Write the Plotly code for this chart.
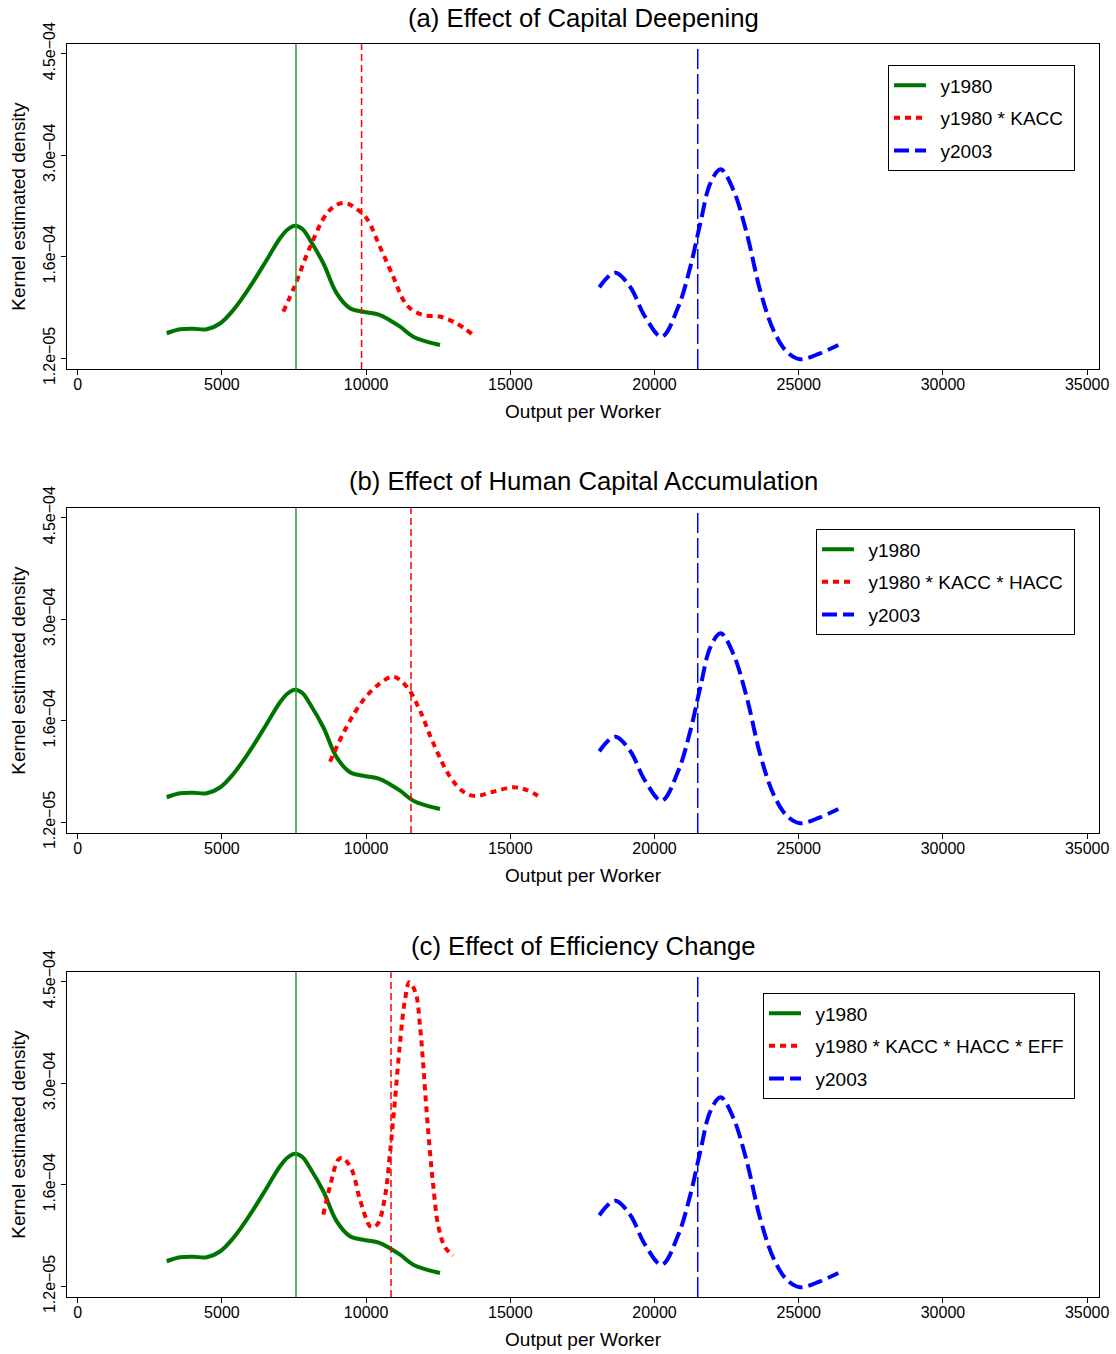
import plotly.graph_objects as go

# ---------------- data ----------------
panel_titles = [
    "(a) Effect of Capital Deepening",
    "(b) Effect of Human Capital Accumulation",
    "(c) Effect of Efficiency Change",
]
cf_names = ["y1980 * KACC", "y1980 * KACC * HACC", "y1980 * KACC * HACC * EFF"]

# kernel density of y1980 (output per worker, density)
y1980_x = [3086, 3547, 4008, 4473, 4934, 5395, 5974, 6553, 7015, 7290, 7535,
           7800, 8055, 8516, 8981, 9442, 9903, 10482, 11176, 11637, 12100, 12562]
y1980_d = [0.48e-4, 0.537e-4, 0.545e-4, 0.537e-4, 0.62e-4, 0.814e-4, 1.149e-4, 1.533e-4, 1.845e-4, 1.975e-4, 2.026e-4,
           1.975e-4, 1.82e-4, 1.486e-4, 1.054e-4, 0.84e-4, 0.79e-4, 0.742e-4, 0.574e-4, 0.43e-4, 0.359e-4, 0.311e-4]

# kernel density of y2003
y2003_x = [18086, 18631, 19151, 19671, 20250, 20826, 21242, 21588, 21935, 22295,
           22733, 23197, 23658, 24120, 24584, 25045, 25738, 26373]
y2003_d = [1.141e-4, 1.35e-4, 1.149e-4, 0.718e-4, 0.43e-4, 0.862e-4, 1.437e-4, 2.06e-4, 2.636e-4, 2.837e-4,
           2.54e-4, 1.917e-4, 1.102e-4, 0.527e-4, 0.215e-4, 0.106e-4, 0.192e-4, 0.311e-4]

# counterfactual: y1980 * KACC
kacc_x = [7129, 7535, 8055, 8634, 9000, 9300, 9600, 10021, 10482, 10943,
          11290, 11522, 11983, 12562, 13141, 13662]
kacc_d = [0.79e-4, 1.17e-4, 1.72e-4, 2.20e-4, 2.33e-4, 2.35e-4, 2.29e-4, 2.13e-4, 1.72e-4, 1.29e-4,
          0.958e-4, 0.84e-4, 0.74e-4, 0.72e-4, 0.62e-4, 0.47e-4]

# counterfactual: y1980 * KACC * HACC
hacc_x = [8748, 9327, 9903, 10482, 10943, 11408, 11859, 12330, 12909, 13370,
          13776, 14411, 15104, 15569, 16089]
hacc_d = [0.991e-4, 1.494e-4, 1.878e-4, 2.118e-4, 2.213e-4, 2.07e-4, 1.734e-4, 1.256e-4, 0.776e-4, 0.56e-4,
          0.498e-4, 0.56e-4, 0.623e-4, 0.584e-4, 0.465e-4]

# counterfactual: y1980 * KACC * HACC * EFF
eff_x = [8516, 8748, 9036, 9189, 9501, 9788, 10135, 10250, 10423, 10655,
         10829, 11002, 11175, 11349, 11498, 11716, 11869, 11983, 12101, 12216,
         12330, 12503, 12746, 13024]
eff_d = [1.151e-4, 1.558e-4, 1.94e-4, 1.966e-4, 1.797e-4, 1.366e-4, 0.982e-4, 0.97e-4, 1.03e-4, 1.41e-4,
         2.036e-4, 2.80e-4, 3.62e-4, 4.24e-4, 4.49e-4, 4.34e-4, 3.86e-4, 3.29e-4, 2.62e-4, 2.04e-4,
         1.56e-4, 0.985e-4, 0.675e-4, 0.564e-4]

cf_x = [kacc_x, hacc_x, eff_x]
cf_d = [kacc_d, hacc_d, eff_d]

# vertical reference lines (means)
vline_y1980 = 7569
vline_cf = [9843, 11557, 10863]
vline_y2003 = 21498

x_tickvals = [0, 5000, 10000, 15000, 20000, 25000, 30000, 35000]
y_tickvals = [1.2e-5, 1.58e-4, 3.04e-4, 4.5e-4]
y_ticktext = ["1.2e\u221205", "1.6e\u221204", "3.0e\u221204", "4.5e\u221204"]

# ---------------- layout constants ----------------
W, H = 1116, 1354
FONT = "Liberation Sans, Arial, Helvetica, sans-serif"
left_px, right_px = 67.3, 1098.7
panel_tops = [44.3, 508.3, 972.3]
panel_h = 324.7
title_y_px = [18, 481, 946]
x_range = [-360, 35400]
y_range = [-3.4e-6, 4.634e-4]

GREEN = "#007400"
RED = "#ff0000"
BLUE = "#0000ff"


def legend_label(s):
    # extra spacing between legend sample and text, as in the original legend
    return "\u2002" + s + "\u00a0"


fig = go.Figure()
shapes = []
annotations = []

for i in range(3):
    n = "" if i == 0 else str(i + 1)
    xa, ya = "x" + n, "y" + n
    leg = "legend" + n
    fig.add_trace(go.Scatter(
        x=y1980_x, y=y1980_d, mode="lines", name=legend_label("y1980"),
        line=dict(color=GREEN, width=4, shape="spline", smoothing=1.0),
        xaxis=xa, yaxis=ya, legend=leg, legendgroup=f"g{i}a"))
    fig.add_trace(go.Scatter(
        x=cf_x[i], y=cf_d[i], mode="lines", name=legend_label(cf_names[i]),
        line=dict(color=RED, width=4, dash="6px,5px", shape="spline", smoothing=1.0),
        xaxis=xa, yaxis=ya, legend=leg, legendgroup=f"g{i}b"))
    fig.add_trace(go.Scatter(
        x=y2003_x, y=y2003_d, mode="lines", name=legend_label("y2003"),
        line=dict(color=BLUE, width=4, dash="15px,6px", shape="spline", smoothing=1.0),
        xaxis=xa, yaxis=ya, legend=leg, legendgroup=f"g{i}c"))

    top = panel_tops[i]
    bot = top + panel_h
    dom_y = [1 - bot / H, 1 - top / H]
    axis_common = dict(showline=True, linecolor="black", linewidth=1, mirror=True,
                       showgrid=False, zeroline=False, ticks="outside", ticklen=5,
                       tickcolor="black", automargin=False,
                       tickfont=dict(size=16, family=FONT, color="black"))
    fig.layout["xaxis" + n] = dict(
        domain=[left_px / W, right_px / W], anchor=ya, range=x_range,
        tickmode="array", tickvals=x_tickvals, ticktext=[str(v) for v in x_tickvals],
        ticklabelstandoff=-4,
        title=dict(text="Output per Worker", font=dict(size=19, family=FONT, color="black"), standoff=12),
        **axis_common)
    fig.layout["yaxis" + n] = dict(
        domain=dom_y, anchor=xa, range=y_range,
        tickmode="array", tickvals=y_tickvals, ticktext=y_ticktext, tickangle=-90,
        title=dict(text="Kernel estimated density", font=dict(size=19, family=FONT, color="black"), standoff=10),
        **axis_common)

    # vertical mean lines
    yref = ya + " domain"
    shapes.append(dict(type="line", xref=xa, yref=yref, x0=vline_y1980, x1=vline_y1980, y0=0, y1=1,
                       line=dict(color="#2e9a2e", width=1.5)))
    shapes.append(dict(type="line", xref=xa, yref=yref, x0=vline_cf[i], x1=vline_cf[i], y0=0, y1=1,
                       line=dict(color=RED, width=1.5, dash="7px,4px")))
    shapes.append(dict(type="line", xref=xa, yref=yref, x0=vline_y2003, x1=vline_y2003, y0=0, y1=1,
                       line=dict(color=BLUE, width=1.5, dash="20px,5px")))

    annotations.append(dict(text=panel_titles[i], xref="paper", yref="paper",
                            x=(left_px + right_px) / 2 / W, y=1 - title_y_px[i] / H,
                            xanchor="center", yanchor="middle", showarrow=False,
                            font=dict(size=25.7, family=FONT, color="black")))

    fig.layout[leg] = dict(x=1075 / W, y=1 - (top + 21) / H, xanchor="right", yanchor="top",
                           bordercolor="black", borderwidth=1, bgcolor="white",
                           font=dict(size=19, family=FONT, color="black"),
                           traceorder="grouped", tracegroupgap=5, itemwidth=32)

fig.update_layout(width=W, height=H, margin=dict(l=0, r=0, t=0, b=0, autoexpand=False),
                  paper_bgcolor="white", plot_bgcolor="white",
                  font=dict(family=FONT, color="black"),
                  shapes=shapes, annotations=annotations, showlegend=True)

fig.write_html("out.html")
